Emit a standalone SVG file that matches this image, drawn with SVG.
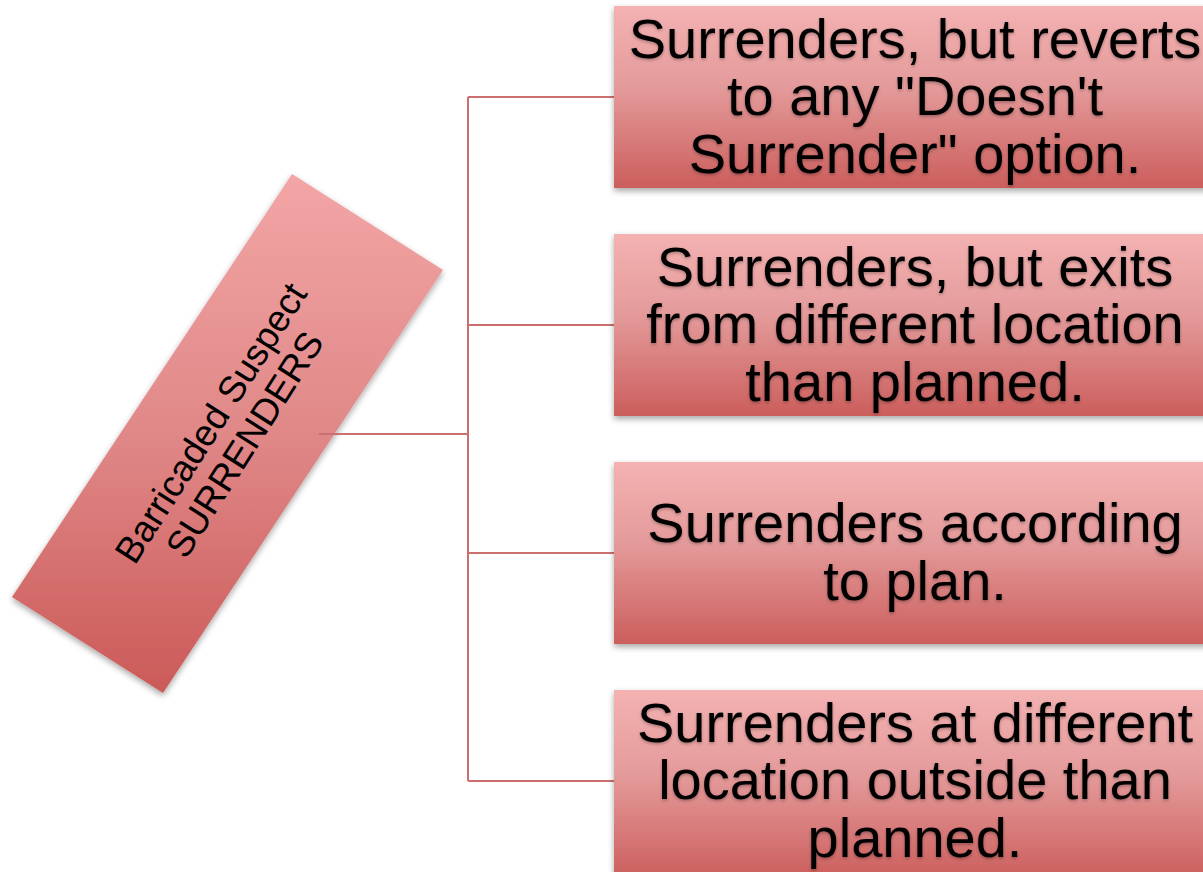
<svg xmlns="http://www.w3.org/2000/svg" width="1203" height="872" viewBox="0 0 1203 872">
  <defs>
    <linearGradient id="gBox" x1="0" y1="0" x2="0" y2="1">
      <stop offset="0" stop-color="#f4b2b2"/>
      <stop offset="0.45" stop-color="#e49a9a"/>
      <stop offset="1" stop-color="#cb5e5c"/>
    </linearGradient>
    <linearGradient id="gRot" x1="0" y1="0" x2="0" y2="1">
      <stop offset="0" stop-color="#f3a5a5"/>
      <stop offset="0.5" stop-color="#e08888"/>
      <stop offset="1" stop-color="#cb5a58"/>
    </linearGradient>
    <filter id="shadow" x="-10%" y="-10%" width="120%" height="125%">
      <feDropShadow dx="0" dy="3" stdDeviation="3" flood-color="#000" flood-opacity="0.35"/>
    </filter>
    <filter id="tshadow" x="-5%" y="-20%" width="110%" height="140%">
      <feDropShadow dx="0" dy="1.5" stdDeviation="1.5" flood-color="#000" flood-opacity="0.3"/>
    </filter>
  </defs>
  <style>
    .box { fill: url(#gBox); filter: url(#shadow); }
    .lbl { font-family: "Liberation Sans", Arial, sans-serif; font-size: 56px; fill: #000; text-anchor: middle; filter: url(#tshadow); }
    .rlbl { font-family: "Liberation Sans", Arial, sans-serif; font-size: 37px; fill: #000; text-anchor: middle; }
    .conn { stroke: #cd6f6f; stroke-width: 2; fill: none; }
  </style>
  <rect width="1203" height="872" fill="#ffffff"/>

  <g id="root">
    <polygon points="292,174 443,270 163,693 12,597" fill="url(#gRot)" filter="url(#shadow)"/>
    <g transform="translate(227.5,433.5) rotate(-57.5)">
      <text class="rlbl" x="0" y="-7">Barricaded Suspect</text>
      <text class="rlbl" x="0" y="33">SURRENDERS</text>
    </g>
  </g>

  <g id="connectors">
    <path class="conn" d="M319,434 H468"/>
    <path class="conn" d="M468,97 V781"/>
    <path class="conn" d="M468,97 H614"/>
    <path class="conn" d="M468,325 H614"/>
    <path class="conn" d="M468,553 H614"/>
    <path class="conn" d="M468,781 H614"/>
  </g>

  <g id="n1">
    <rect class="box" x="614" y="6" width="602" height="182"/>
    <text class="lbl" x="915" y="57.5">Surrenders, but reverts</text>
    <text class="lbl" x="915" y="115">to any "Doesn't</text>
    <text class="lbl" x="915" y="172.5">Surrender" option.</text>
  </g>
  <g id="n2">
    <rect class="box" x="614" y="234" width="602" height="182"/>
    <text class="lbl" x="915" y="285.5">Surrenders, but exits</text>
    <text class="lbl" x="915" y="343">from different location</text>
    <text class="lbl" x="915" y="400.5">than planned.</text>
  </g>
  <g id="n3">
    <rect class="box" x="614" y="462" width="602" height="182"/>
    <text class="lbl" x="915" y="542">Surrenders according</text>
    <text class="lbl" x="915" y="599.5">to plan.</text>
  </g>
  <g id="n4">
    <rect class="box" x="614" y="690" width="602" height="190"/>
    <text class="lbl" x="915" y="741.5">Surrenders at different</text>
    <text class="lbl" x="915" y="799">location outside than</text>
    <text class="lbl" x="915" y="856.5">planned.</text>
  </g>
</svg>
